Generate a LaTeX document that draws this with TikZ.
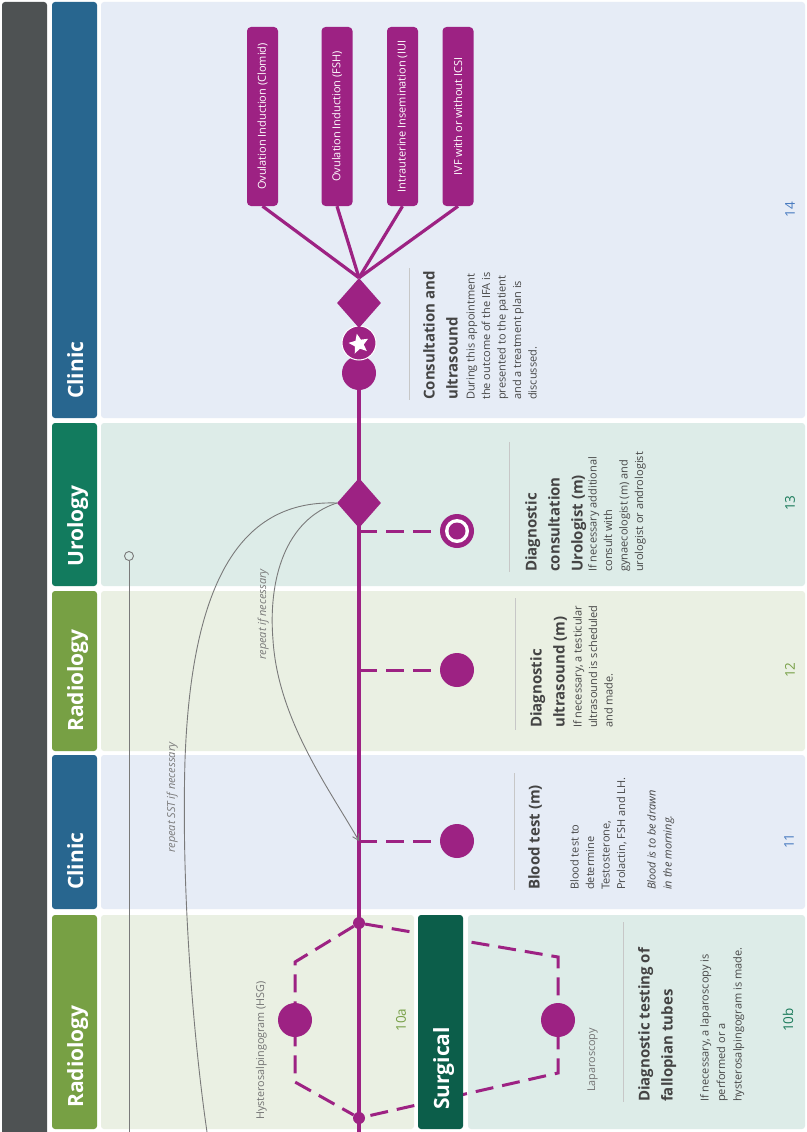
\documentclass[tikz,border=0pt]{standalone}
\usepackage{fontspec}
\setmainfont{Open Sans}
\usetikzlibrary{shapes.geometric,arrows.meta}
\pgfdeclarelayer{lanes}
\pgfdeclarelayer{links}
\pgfsetlayers{lanes,links,main}

\definecolor{bargray}{HTML}{4E5253}
\definecolor{clinicblue}{HTML}{28668F}
\definecolor{urogreen}{HTML}{127B5E}
\definecolor{radgreen}{HTML}{77A044}
\definecolor{surggreen}{HTML}{0C5E4A}
\definecolor{laneblue}{HTML}{E6ECF6}
\definecolor{laneteal}{HTML}{DDECE8}
\definecolor{lanegreen}{HTML}{EAF0E3}
\definecolor{plum}{HTML}{9D2283}
\definecolor{txtgray}{HTML}{474747}
\definecolor{headgray}{HTML}{444444}
\definecolor{numblue}{HTML}{4A7CC0}
\definecolor{numgreen}{HTML}{1A7A5A}
\definecolor{numolive}{HTML}{78A048}
\definecolor{linegray}{HTML}{7A7A7A}

\tikzset{
  lanebody/.style={fill=#1, rounded corners=3pt},
  lanehead/.style={fill=#1, rounded corners=3pt},
  lanelabel/.style={rotate=90, anchor=base west, inner sep=0, text=white,
    font=\fontsize{21}{21}\selectfont\bfseries},
  plumdot/.style={circle, fill=plum, minimum size=34pt, inner sep=0},
  forkdot/.style={circle, fill=plum, minimum size=12pt, inner sep=0},
  gate/.style={diamond, fill=plum, minimum width=44pt, minimum height=50pt, inner sep=0},
  treatbox/.style={rotate=90, fill=plum, rounded corners=4pt, minimum width=179pt,
    minimum height=31pt, inner sep=0, text=white, font=\fontsize{11}{12}\selectfont},
  mainline/.style={draw=plum, line width=4pt},
  fanline/.style={draw=plum, line width=3.2pt},
  dashline/.style={draw=plum, line width=3pt, dash pattern=on 18pt off 9pt},
  heading/.style={rotate=90, anchor=north west, inner sep=0, align=left, text=headgray,
    font=\fontsize{15}{23}\selectfont\bfseries},
  bodytext/.style={rotate=90, anchor=north west, inner sep=0, align=left, text=txtgray,
    font=\fontsize{11}{15.5}\selectfont},
  sepline/.style={draw=black!22, line width=1pt},
  stepnum/.style={rotate=90, inner sep=0, font=\fontsize{13.5}{14}\selectfont},
  loopline/.style={draw=linegray, line width=0.9pt},
  looplabel/.style={rotate=90, anchor=base west, inner sep=0, text=linegray,
    font=\fontsize{11}{12}\selectfont\itshape},
  minilabel/.style={rotate=90, anchor=base west, inner sep=0, text=black!55,
    font=\fontsize{10.8}{12}\selectfont},
}

\begin{document}
\begin{tikzpicture}[x=1pt, y=-1pt]
\useasboundingbox (0,0) rectangle (806,1132);

% ---------- lanes ----------
\begin{pgfonlayer}{lanes}
  \fill[white] (0,0) rectangle (806,1132);
  \fill[bargray, rounded corners=3pt] (2,2) rectangle (47,1140);
  \fill[lanebody=laneblue]  (101,2)   rectangle (805,418);
  \fill[lanebody=laneteal]  (101,423) rectangle (805,586);
  \fill[lanebody=lanegreen] (101,591) rectangle (805,751);
  \fill[lanebody=laneblue]  (101,755) rectangle (805,909);
  \fill[lanebody=lanegreen] (101,915) rectangle (414,1129);
  \fill[lanebody=laneteal]  (468,915) rectangle (805,1129);
  \fill[lanehead=clinicblue] (52,2)   rectangle (97,418);
  \fill[lanehead=urogreen]   (52,423) rectangle (97,586);
  \fill[lanehead=radgreen]   (52,591) rectangle (97,751);
  \fill[lanehead=clinicblue] (52,755) rectangle (97,909);
  \fill[lanehead=radgreen]   (52,915) rectangle (97,1129);
\end{pgfonlayer}

% ---------- lane titles ----------
\node[lanelabel] (lclinicA) at (83,399)  {Clinic};
\node[lanelabel] (luro)     at (83,567)  {Urology};
\node[lanelabel] (lradA)    at (83,732)  {Radiology};
\node[lanelabel] (lclinicB) at (83,890)  {Clinic};
\node[lanelabel] (lradB)    at (83,1108) {Radiology};

% ---------- events on the pathway ----------
\node[plumdot] (start) at (359,373) {};
\node[plumdot, draw=white, line width=1pt] (st) at (359,343) {};
\node[star, star points=5, star point ratio=2.2, fill=white, minimum size=21pt,
      inner sep=0, rotate=12] (stmark) at (359,344) {};
\node[gate] (d1) at (359,303) {};

\node[treatbox] (b1) at (262.5,116.5) {Ovulation Induction (Clomid)};
\node[treatbox] (b2) at (337,116.5)   {Ovulation Induction (FSH)};
\node[treatbox] (b3) at (402.5,116.5) {Intrauterine Insemination (IUI};
\node[treatbox] (b4) at (458,116.5)   {IVF with or without ICSI};

\node[gate] (d2) at (359,503) {};
\coordinate (j13) at (359,531);
\coordinate (j12) at (359,670);
\coordinate (j11) at (359,841);
\node[plumdot] (c13) at (457,531) {};
\fill[white] (c13) circle (12pt);
\fill[plum]  (c13) circle (8.5pt);
\node[plumdot] (c12) at (457,670) {};
\node[plumdot] (c11) at (457,841) {};

\node[forkdot] (f1) at (359,923) {};
\node[forkdot] (f2) at (359,1118) {};
\node[plumdot] (c10a) at (295,1020) {};
\node[plumdot] (c10b) at (558,1020) {};
\coordinate (bottom) at (359,1132);
\coordinate (h1) at (295,962);
\coordinate (h2) at (295,1082);
\coordinate (l1) at (558,957);
\coordinate (l2) at (558,1073);

% surgical lane header sits above the dashed route
\fill[lanehead=surggreen] (418,915) rectangle (463,1129);
\node[lanelabel] (lsurg) at (449,1110) {Surgical};

% ---------- connectors ----------
\begin{pgfonlayer}{links}
  \draw[mainline] (start) -- (bottom);
  \draw[fanline] (b1.west) -- (d1.north);
  \draw[fanline] (b2.west) -- (d1.north);
  \draw[fanline] (b3.west) -- (d1.north);
  \draw[fanline] (b4.west) -- (d1.north);
  \draw[dashline] (j13) -- (c13);
  \draw[dashline] (j12) -- (c12);
  \draw[dashline] (j11) -- (c11);
  \draw[dashline] (f1) -- (h1) -- (h2) -- (f2);
  \draw[dashline] (f1) -- (l1) -- (l2) -- (f2);

  % repeat loops
  \node[circle, draw=linegray, fill=laneteal, line width=0.9pt, minimum size=9pt,
        inner sep=0] (sstmark) at (129,556) {};
  \coordinate (sstbottom) at (129,1132);
  \draw[loopline] (sstmark) -- (sstbottom);
  \coordinate (sstend) at (207,1132);
  \draw[loopline] (d2.west) .. controls (250,500) and (192,565) .. (185,760)
                  .. controls (181,900) and (195,1050) .. (sstend);
  \draw[loopline, -{Straight Barb[length=6pt,width=7pt]}]
        (d2.west) .. controls (285,520) and (268,580) .. (273,640)
                  .. controls (278,720) and (330,790) .. (j11);
\end{pgfonlayer}

\node[looplabel] (lsst) at (175,853) {repeat SST if necessary};
\node[looplabel] (lrep) at (266,660) {repeat if necessary};

% ---------- descriptions ----------
\draw[sepline] (409,268) -- (409,400);
\node[heading] (h14) at (423,400) {Consultation and\\ultrasound};
\node[bodytext] (t14) at (466,400) {During this appointment\\the outcome of the IFA is\\presented to the patient\\and a treatment plan is\\discussed.};

\draw[sepline] (509,442) -- (509,572);
\node[heading] (h13) at (525,572) {Diagnostic\\consultation\\Urologist (m)};
\node[bodytext] (t13) at (588,572) {If necessary additional\\consult with\\gynaecologist (m) and\\urologist or andrologist};

\draw[sepline] (515,598) -- (515,730);
\node[heading] (h12) at (530,728) {Diagnostic\\ultrasound (m)};
\node[bodytext] (t12) at (573,728) {If necessary, a testicular\\ultrasound is scheduled\\and made.};

\draw[sepline] (514,773) -- (514,890);
\node[heading] (h11) at (528,890) {Blood test (m)};
\node[bodytext] (t11) at (570,890) {Blood test to\\determine\\Testosterone,\\Prolactin, FSH and LH.};
\node[bodytext, font=\fontsize{11}{16}\selectfont\itshape] (i11) at (647,890) {Blood is to be drawn\\in the morning.};

\draw[sepline] (623,922) -- (623,1102);
\node[heading] (h10) at (638,1102) {Diagnostic testing of\\fallopian tubes};
\node[bodytext, font=\fontsize{11}{16.5}\selectfont] (t10) at (700,1102) {If necessary, a laparoscopy is\\performed or a\\hysterosalpingogram is made.};

\node[minilabel] (lhsg) at (264,1120) {Hysterosalpingogram (HSG)};
\node[minilabel] (llap) at (595,1092) {Laparoscopy};

% ---------- step numbers ----------
\node[stepnum, text=numblue]  (n14)  at (790,210)  {14};
\node[stepnum, text=numgreen] (n13)  at (790,503)  {13};
\node[stepnum, text=numolive] (n12)  at (790,670)  {12};
\node[stepnum, text=numblue]  (n11)  at (789,841)  {11};
\node[stepnum, text=numolive] (n10a) at (401,1020) {10a};
\node[stepnum, text=numgreen] (n10b) at (788,1020) {10b};
\end{tikzpicture}
\end{document}
